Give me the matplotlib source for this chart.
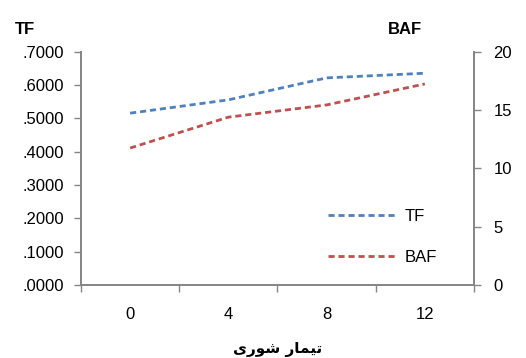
import numpy as np
import matplotlib.pyplot as plt

categories = ["0", "4", "8", "12"]
tf_values = [0.516, 0.556, 0.622, 0.636]
baf_values = [11.75, 14.4, 15.45, 17.25]
tf_ticks = [0.0, 0.1, 0.2, 0.3, 0.4, 0.5, 0.6, 0.7]
baf_ticks = [0, 5, 10, 15, 20]

# Persian x label, pre-shaped (presentation forms, visual order) since matplotlib has no bidi
xlabel = "\uFBFC\uFEAD\uFEEE\uFEB7 \uFEAD\uFE8E\uFEE4\uFBFF\uFE97"

plt.rcParams['font.family'] = ['Liberation Sans', 'DejaVu Sans']
grey = '#868686'

fig = plt.figure(figsize=(5.26, 3.58), dpi=100)
ax = fig.add_axes([0.154, 0.204, 0.747, 0.651])
ax2 = ax.twinx()

x = np.arange(len(categories))
l1, = ax.plot(x, tf_values, color='#4F81BD', lw=2.0, dashes=(2.2, 1.4), label='TF')
l2, = ax2.plot(x, baf_values, color='#C0504D', lw=2.0, dashes=(2.2, 1.4), label='BAF')

ax.set_xlim(-0.5, len(categories) - 0.5)
ax.set_ylim(0, 0.7)
ax2.set_ylim(0, 20)
ax.set_yticks(tf_ticks)
ax.set_yticklabels(["." + f"{v:.4f}".split(".")[1] for v in tf_ticks])
ax2.set_yticks(baf_ticks)
ax.set_xticks(x)
ax.set_xticklabels(categories)
ax.set_xticks(np.arange(len(categories) + 1) - 0.5, minor=True)
ax.tick_params(axis='x', which='major', length=0, pad=16, labelsize=12)
ax.tick_params(axis='x', which='minor', length=5, color=grey, width=1)
ax.tick_params(axis='y', length=5, color=grey, width=1, labelsize=12, pad=7)
ax2.tick_params(axis='y', length=5, color=grey, width=1, labelsize=12, pad=9)

for a in (ax, ax2):
    a.spines['top'].set_visible(False)
    for s in ('left', 'right', 'bottom'):
        a.spines[s].set_color(grey)
        a.spines[s].set_linewidth(1.3)

ax.set_xlabel(xlabel, family=['DejaVu Sans'], fontweight='bold', fontsize=11, labelpad=14)
fig.text(0.029, 0.905, "TF", fontweight='bold', fontsize=12, va='baseline')
fig.text(0.738, 0.905, "BAF", fontweight='bold', fontsize=12, va='baseline')

ax.legend([l1, l2], ['TF', 'BAF'], loc='lower left', bbox_to_anchor=(0.59, 0.02),
          frameon=False, handlelength=4.2, labelspacing=1.6, handletextpad=0.4, fontsize=12)

fig.savefig("out.png", dpi=100)
